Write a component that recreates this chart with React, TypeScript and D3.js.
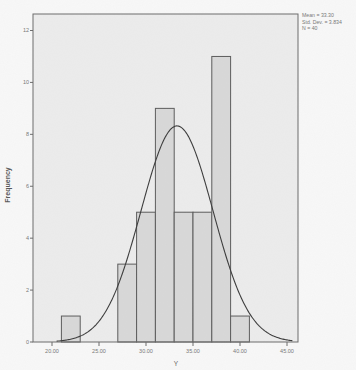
import React from "react";
import * as d3 from "d3";

const binStarts = [21, 27, 29, 31, 33, 35, 37, 39];
const binWidth = 2;
const counts = [1, 3, 5, 9, 5, 5, 11, 1];
const xTicks = [20, 25, 30, 35, 40, 45];
const yTicks = [0, 2, 4, 6, 8, 10, 12];
const statsLines = ["Mean = 33.30", "Std. Dev. = 3.834", "N = 40"];
const mean = 33.3;
const sd = 3.834;
const n = 40;

export default function App() {
  const W = 356, H = 370;
  const plot = { left: 33, right: 298, top: 14, bottom: 342 };
  const x = d3.scaleLinear().domain([20, 45]).range([52, 287]);
  const y = d3.scaleLinear().domain([0, 12]).range([342, 30.5]);
  const pdf = (v: number) =>
    (n * binWidth) / (sd * Math.sqrt(2 * Math.PI)) * Math.exp(-0.5 * ((v - mean) / sd) ** 2);
  const xs = d3.range(x.invert(plot.left) + 2.5, x.invert(plot.right) - 0.5, 0.1);
  const line = d3.line<number>().x((v) => x(v)).y((v) => y(pdf(v))).curve(d3.curveLinear);
  return (
    <svg width={W} height={H} style={{ position: "absolute", left: 0, top: 0, background: "#f7f7f7" }}
      fontFamily="Liberation Sans, Arial, sans-serif">
      <defs>
        <filter id="grain" x="0" y="0" width="100%" height="100%">
          <feTurbulence type="fractalNoise" baseFrequency="0.9" numOctaves="2" seed="3" />
          <feColorMatrix type="matrix" values="0 0 0 0 0.5  0 0 0 0 0.5  0 0 0 0 0.5  0 0 0 0.06 0" />
        </filter>
      </defs>
      <rect x={0} y={0} width={W} height={H} fill="#f8f8f8" />
      <rect x={plot.left} y={plot.top} width={plot.right - plot.left} height={plot.bottom - plot.top}
        fill="#ececec" />
      {binStarts.map((b, i) => (
        <rect key={i} x={x(b)} y={y(counts[i])} width={x(b + binWidth) - x(b)} height={y(0) - y(counts[i])}
          fill="#d8d8d8" stroke="#5a5a5a" strokeWidth={1} />
      ))}
      <path d={line(xs) || ""} fill="none" stroke="#3a3a3a" strokeWidth={1.1} />
      <rect x={plot.left} y={plot.top} width={plot.right - plot.left} height={plot.bottom - plot.top}
        fill="none" stroke="#6a6a6a" strokeWidth={1} />
      {yTicks.map((t) => (
        <g key={t}>
          <line x1={plot.left - 3} x2={plot.left} y1={y(t)} y2={y(t)} stroke="#6a6a6a" />
          <text x={plot.left - 4} y={y(t)} dy="0.35em" textAnchor="end" fontSize={5.5} fill="#777">{t}</text>
        </g>
      ))}
      {xTicks.map((t) => (
        <g key={t}>
          <line x1={x(t)} x2={x(t)} y1={plot.bottom} y2={plot.bottom + 4} stroke="#6a6a6a" />
          <text x={x(t)} y={plot.bottom + 11} textAnchor="middle" fontSize={5.5} fill="#777">{t.toFixed(2)}</text>
        </g>
      ))}
      <text x={176} y={366} textAnchor="middle" fontSize={6.5} fill="#666">Y</text>
      <text transform={`translate(10,185) rotate(-90)`} textAnchor="middle" fontSize={7} fontWeight="bold"
        fill="#555">Frequency</text>
      {statsLines.map((s, i) => (
        <text key={i} x={302} y={17 + i * 6.5} fontSize={5.2} fill="#777">{s}</text>
      ))}
      <rect x={0} y={0} width={W} height={H} filter="url(#grain)" />
    </svg>
  );
}
